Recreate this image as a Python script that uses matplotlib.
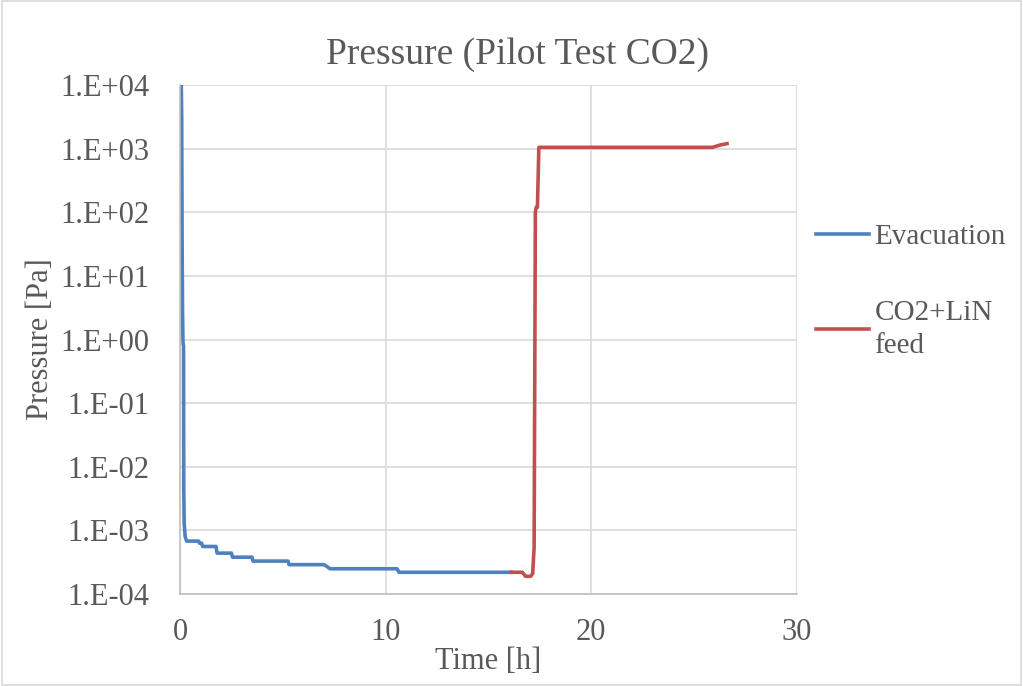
import matplotlib.pyplot as plt
import matplotlib.patches as patches

plt.rcParams['font.family'] = ['Liberation Serif', 'DejaVu Serif']

# evacuation phase (time in h, pressure in Pa)
evac_t = [0.06, 0.08, 0.10, 0.12, 0.14, 0.15, 0.17, 0.18, 0.20, 0.25, 0.32,
          0.9, 0.95, 1.05, 1.1, 1.75, 1.8, 2.5, 2.55, 3.5, 3.55, 5.25, 5.3,
          7.0, 7.15, 7.3, 10.55, 10.65, 16.1]
evac_p = [1.0e4, 3.0e3, 40, 3.0, 1.0, 0.85, 0.8, 5e-3, 1.3e-3, 8.0e-4, 6.8e-4,
          6.8e-4, 6.3e-4, 6.3e-4, 5.6e-4, 5.6e-4, 4.4e-4, 4.4e-4, 3.8e-4, 3.8e-4, 3.3e-4, 3.3e-4, 2.9e-4,
          2.9e-4, 2.7e-4, 2.5e-4, 2.5e-4, 2.2e-4, 2.2e-4]

# CO2 + LiN feed phase
feed_t = [16.1, 16.65, 16.8, 17.05, 17.15, 17.22, 17.28, 17.32, 17.38, 17.45,
          25.9, 26.1, 26.3, 26.6]
feed_p = [2.2e-4, 2.2e-4, 1.9e-4, 1.9e-4, 2.1e-4, 5.5e-4, 1.0e2, 1.2e2, 1.2e2, 1.05e3,
          1.05e3, 1.1e3, 1.15e3, 1.2e3]

y_ticks = [1e-4, 1e-3, 1e-2, 1e-1, 1e0, 1e1, 1e2, 1e3, 1e4]
y_labels = ['1.E-04', '1.E-03', '1.E-02', '1.E-01', '1.E+00',
            '1.E+01', '1.E+02', '1.E+03', '1.E+04']
x_ticks = [0, 10, 20, 30]

txt = '#595959'
grid = '#D9D9D9'

fig = plt.figure(figsize=(10.23, 6.86), dpi=100)
ax = fig.add_axes([0.176, 0.134, 0.603, 0.742])

ax.plot(evac_t, evac_p, color='#4F81BD', lw=2.6, label='Evacuation')
ax.plot(feed_t, feed_p, color='#C0504D', lw=2.6, label='CO2+LiN\nfeed')

ax.set_yscale('log')
ax.set_ylim(1e-4, 1e4)
ax.set_xlim(0, 30)
ax.set_yticks(y_ticks)
ax.set_yticklabels(y_labels)
ax.minorticks_off()
ax.set_xticks(x_ticks)
ax.grid(True, color=grid, lw=1.2)
ax.set_axisbelow(True)
ax.tick_params(length=0, labelsize=22, labelcolor=txt)
ax.tick_params(axis='y', pad=22)
ax.tick_params(axis='x', pad=17)
for s in ['top', 'right']:
    ax.spines[s].set_visible(False)
for s in ['left', 'bottom']:
    ax.spines[s].set_color('#BFBFBF')
    ax.spines[s].set_linewidth(1.2)

fig.text(517 / 1023, 1 - 55 / 686, 'Pressure (Pilot Test CO2)', fontsize=27,
         color=txt, ha='center', va='center')
ax.set_xlabel('Time [h]', fontsize=22, color=txt, labelpad=0)
ax.set_ylabel('Pressure [Pa]', fontsize=22, color=txt, labelpad=4)

leg = ax.legend(loc='upper left', bbox_to_anchor=(816 / 1023, 1 - 224 / 686),
                bbox_transform=fig.transFigure, frameon=False,
                fontsize=21, handlelength=1.8, handletextpad=0.2,
                labelspacing=1.7, labelcolor=txt, borderaxespad=0, borderpad=0)
for t in leg.get_texts():
    t.set_linespacing(1.35)

fig.patches.append(patches.Rectangle((0.002, 0.002), 0.996, 0.996,
                                     transform=fig.transFigure, fill=False,
                                     edgecolor='#D9D9D9', lw=1.2))

fig.savefig('out.png', dpi=100)
